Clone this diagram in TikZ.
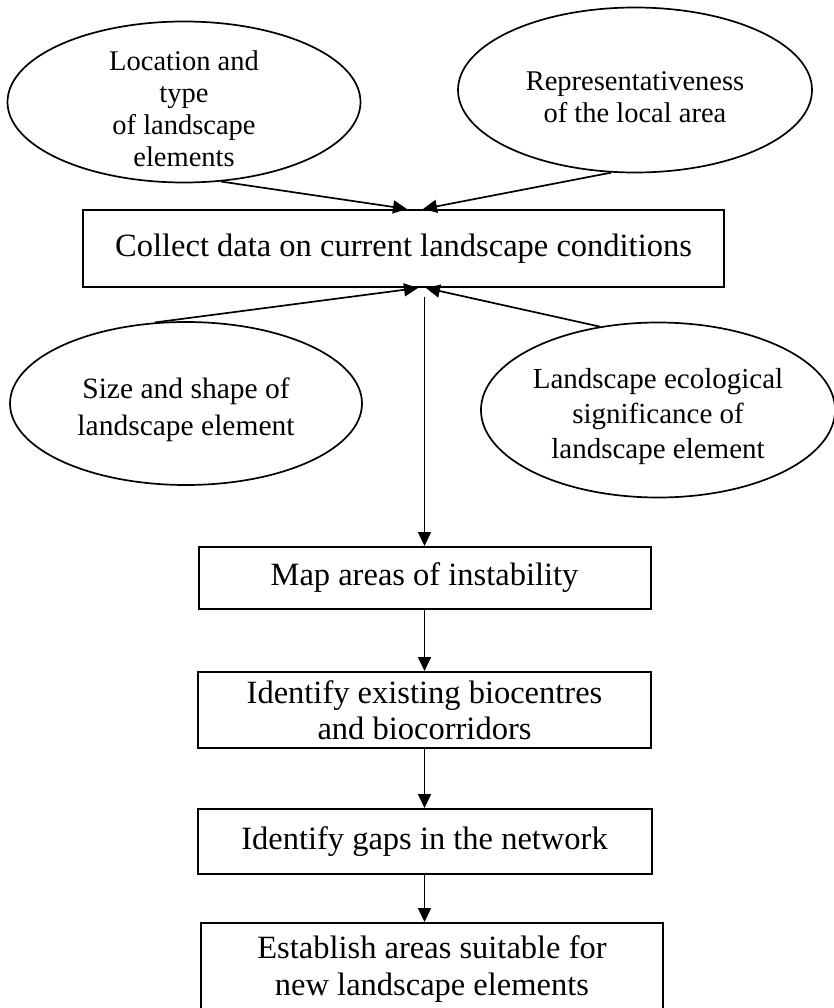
\documentclass[tikz,border=0pt]{standalone}
\usepackage{fontspec}
\setmainfont{Liberation Serif}
\usetikzlibrary{arrows.meta,shapes.geometric}
\newcommand{\ovalstrut}{\rule{0pt}{34pt}}

\begin{document}
\begin{tikzpicture}[
  x=1pt, y=-1pt,
  oval/.style={draw, ellipse, line width=1.7pt, inner xsep=0pt, inner ysep=-40pt, align=center, font=\fontsize{28.5}{32}\selectfont},
  box/.style={draw, rectangle, line width=2pt, inner sep=0pt, align=center, font=\fontsize{32.5}{36.5}\selectfont},
  arr/.style={-{Triangle[length=14pt,width=13pt]}, line width=1.7pt},
]
\useasboundingbox (0,0) rectangle (833,1008);

% ── inputs above ─────────────────────────────────────────────────────────
\node[oval, minimum width=353, minimum height=161] (loc) at (184,102) {\ovalstrut Location and\\type\\of landscape\\elements};
\node[oval, minimum width=354, minimum height=165] (rep) at (635,90) {\ovalstrut Representativeness\\of the local area};

% ── data collection ──────────────────────────────────────────────────────
\node[box, minimum width=641, minimum height=77] (collect) at (403.5,248.5) {Collect data on current landscape conditions};

% ── inputs below ─────────────────────────────────────────────────────────
\node[oval, font=\fontsize{29.5}{37}\selectfont, minimum width=352, minimum height=163] (size) at (186,403.5) {\ovalstrut Size and shape of\\landscape element};
\node[oval, font=\fontsize{29}{35}\selectfont, minimum width=350, minimum height=175] (signif) at (658,410) {\ovalstrut Landscape ecological\\significance of\\landscape element};

% ── steps ────────────────────────────────────────────────────────────────
\node[box, minimum width=452, minimum height=62] (map) at (424.5,578) {Map areas of instability};
\node[box, minimum width=453, minimum height=76] (ident) at (424.5,710) {Identify existing biocentres\\and biocorridors};
\node[box, minimum width=454, minimum height=65] (gaps) at (424.5,841.5) {Identify gaps in the network};
\node[box, minimum width=462, minimum height=92] (estab) at (432,969) {Establish areas suitable for\\new landscape elements};

% ── arrows ───────────────────────────────────────────────────────────────
\draw[arr] (loc.-65) -- ([xshift=3.5pt]collect.north);
\draw[arr] (rep.-106) -- ([xshift=19.5pt]collect.north);
\draw[arr] (size.111) -- ([xshift=14.5pt]collect.south);
\draw[arr] (signif.125) -- ([xshift=22.5pt]collect.south);
\draw[arr] (collect.south -| map.north) ++(0,9) -- (map.north);
\draw[arr] (map) -- (ident);
\draw[arr] (ident) -- (gaps);
\draw[arr] (gaps.south) -- (gaps.south |- estab.north);
\end{tikzpicture}
\end{document}
